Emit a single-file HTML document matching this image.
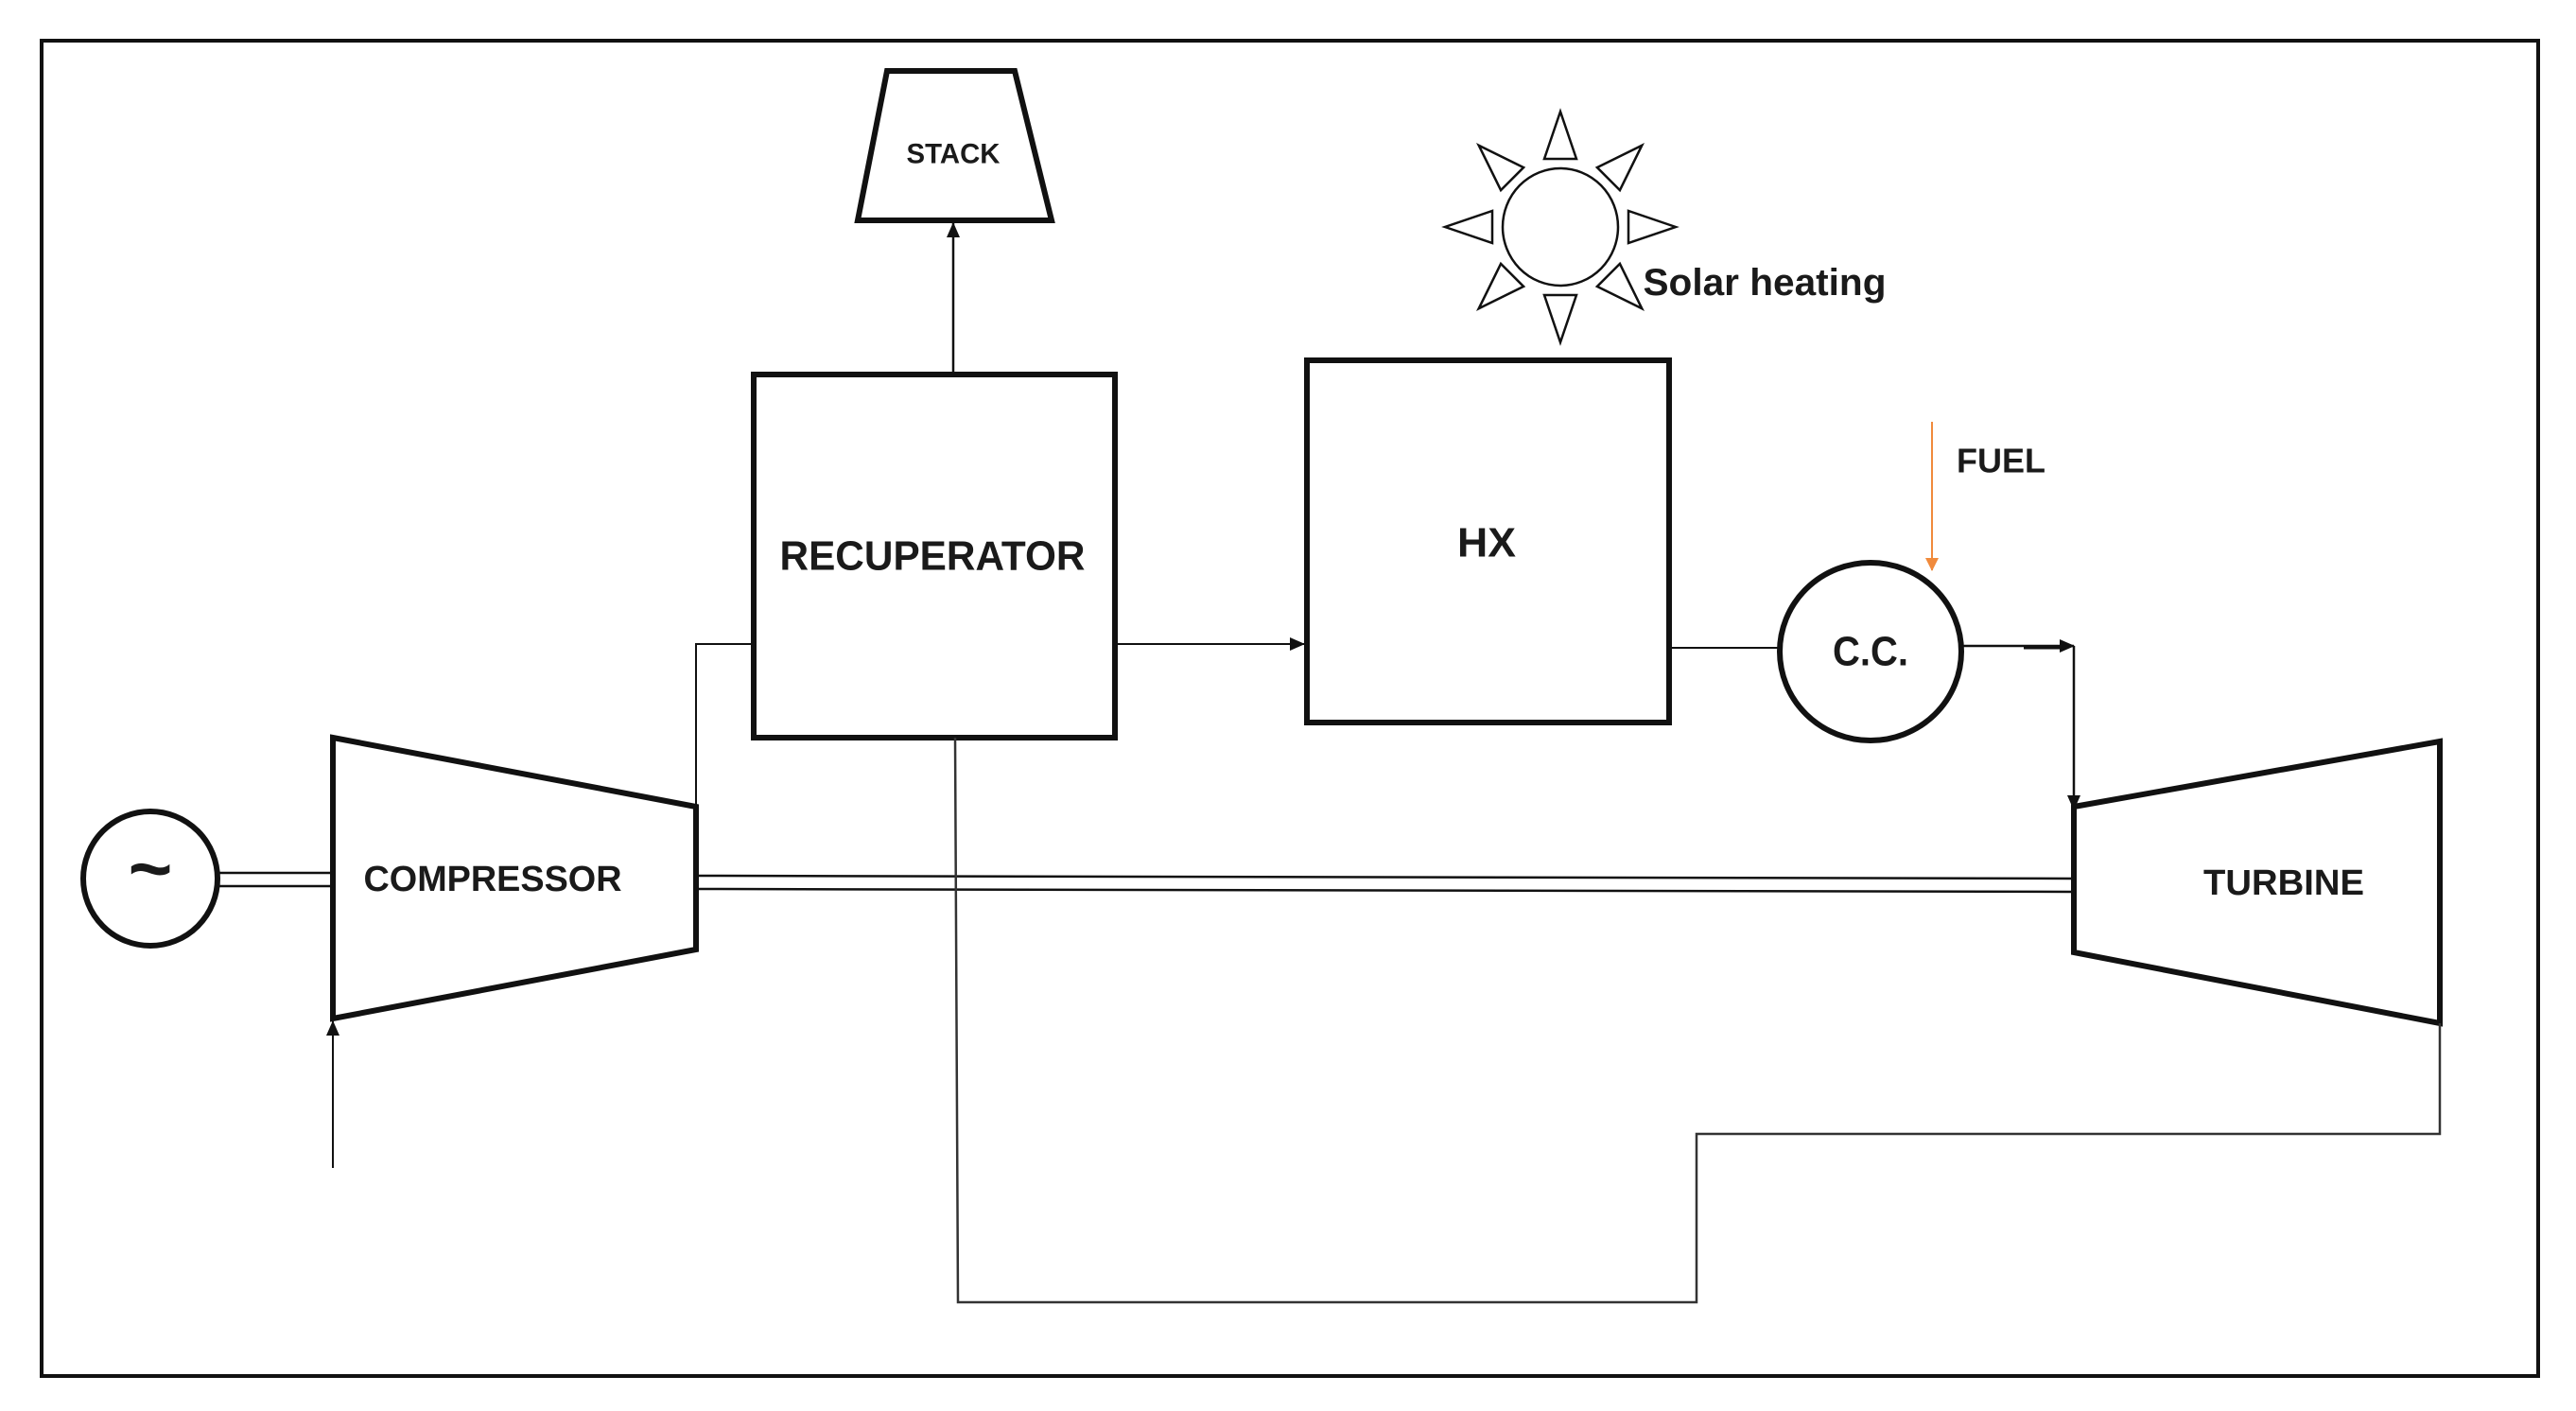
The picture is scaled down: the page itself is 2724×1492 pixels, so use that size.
<!DOCTYPE html>
<html><head><meta charset="utf-8"><style>html,body{margin:0;padding:0;background:#fff}svg{display:block}</style></head>
<body>
<svg width="2724" height="1492" viewBox="0 0 2724 1492" xmlns="http://www.w3.org/2000/svg" font-family="'Liberation Sans', sans-serif" font-weight="bold">
<defs>
<marker id="a" markerWidth="10" markerHeight="10" refX="9" refY="5" orient="auto" markerUnits="userSpaceOnUse"><path d="M0,0 L10,5 L0,10 Z" fill="#111"/></marker>
<marker id="ao" markerWidth="14" markerHeight="14" refX="13" refY="7" orient="auto" markerUnits="userSpaceOnUse"><path d="M0,0 L14,7 L0,14 Z" fill="#f08a3c"/></marker>
<marker id="ab" markerWidth="16" markerHeight="14" refX="15" refY="7" orient="auto" markerUnits="userSpaceOnUse"><path d="M0,0 L16,7 L0,14 Z" fill="#111"/></marker>
</defs>
<rect x="44" y="43" width="2640" height="1412" fill="none" stroke="#111" stroke-width="4"/>
<g fill="none" stroke="#111">
<!-- stack -->
<polygon points="938,75 1073,75 1112,233 907,233" stroke-width="6"/>
<line x1="1008" y1="394" x2="1008" y2="236" stroke-width="2.5" marker-end="url(#ab)"/>
<!-- recuperator -->
<rect x="797" y="396" width="382" height="384" stroke-width="6"/>
<!-- HX -->
<rect x="1382" y="381" width="383" height="383" stroke-width="6"/>
<!-- compressor -->
<polygon points="352,780 736,853 736,1004 352,1077" stroke-width="6"/>
<!-- turbine -->
<polygon points="2193,853 2580,784 2580,1082 2193,1007" stroke-width="6"/>
<!-- generator -->
<circle cx="159" cy="929" r="71" stroke-width="6"/>
<!-- CC -->
<ellipse cx="1978" cy="689" rx="96" ry="94" stroke-width="6"/>
<!-- shaft -->
<line x1="231" y1="923" x2="352" y2="923" stroke-width="2.5"/>
<line x1="231" y1="937" x2="352" y2="937" stroke-width="2.5"/>
<line x1="736" y1="926" x2="2193" y2="929" stroke-width="2.5"/>
<line x1="736" y1="940" x2="2193" y2="943" stroke-width="2.5"/>
<!-- compressor to recuperator -->
<polyline points="736,853 736,681 797,681" stroke-width="2"/>
<!-- recuperator to HX -->
<line x1="1179" y1="681" x2="1379" y2="681" stroke-width="2" marker-end="url(#ab)"/>
<!-- HX to CC -->
<line x1="1765" y1="685" x2="1882" y2="685" stroke-width="2"/>
<!-- CC to turbine -->
<line x1="2074" y1="683" x2="2193" y2="683" stroke-width="2.5" marker-end="url(#ab)"/>
<line x1="2140" y1="685" x2="2180" y2="685" stroke-width="3"/>
<line x1="2193" y1="683" x2="2193" y2="856" stroke-width="2.5" marker-end="url(#ab)"/>
<!-- inlet -->
<line x1="352" y1="1235" x2="352" y2="1080" stroke-width="2" marker-end="url(#ab)"/>
<!-- return path -->
<polyline points="1010,780 1013,1377 1794,1377 1794,1199 2580,1199 2580,1082" stroke-width="2.5" stroke="#333"/>
<!-- fuel -->
<line x1="2043" y1="446" x2="2043" y2="603" stroke="#f08a3c" stroke-width="2" marker-end="url(#ao)"/>
<!-- sun -->
<g transform="translate(1650,240)" stroke-width="2.5">
<ellipse cx="0" cy="0" rx="61" ry="62"/>
<g id="ray"><polygon points="0,-122 -17,-72 17,-72"/></g>
<use href="#ray" transform="rotate(45)"/>
<use href="#ray" transform="rotate(90)"/>
<use href="#ray" transform="rotate(135)"/>
<use href="#ray" transform="rotate(180)"/>
<use href="#ray" transform="rotate(225)"/>
<use href="#ray" transform="rotate(270)"/>
<use href="#ray" transform="rotate(315)"/>
</g>
</g>
<g fill="#1a1a1a" text-anchor="middle" dominant-baseline="central">
<text x="1008" y="163" font-size="30" textLength="99" lengthAdjust="spacingAndGlyphs">STACK</text>
<text x="986" y="588" font-size="44" textLength="323" lengthAdjust="spacingAndGlyphs">RECUPERATOR</text>
<text x="1572" y="574" font-size="44" textLength="62" lengthAdjust="spacingAndGlyphs">HX</text>
<text x="1978" y="689" font-size="44" textLength="80" lengthAdjust="spacingAndGlyphs">C.C.</text>
<text x="2116" y="487" font-size="36" textLength="94" lengthAdjust="spacingAndGlyphs">FUEL</text>
<text x="521" y="930" font-size="38" textLength="273" lengthAdjust="spacingAndGlyphs">COMPRESSOR</text>
<text x="2415" y="934" font-size="38" textLength="170" lengthAdjust="spacingAndGlyphs">TURBINE</text>
<text x="1866" y="299" font-size="40" textLength="257" lengthAdjust="spacingAndGlyphs">Solar heating</text>
<text x="159" y="918" font-size="80">~</text>
</g>
</svg>
</body></html>
